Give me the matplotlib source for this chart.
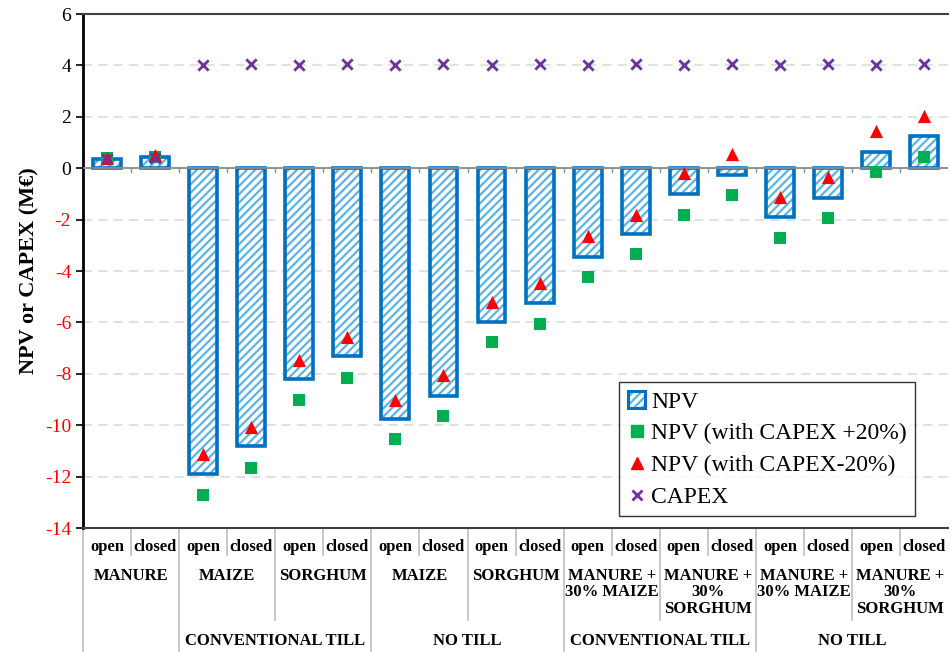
import matplotlib.pyplot as plt
import matplotlib.patches as mpatches
from matplotlib.legend_handler import HandlerTuple
from matplotlib.lines import Line2D
import numpy as np

plt.rcParams["font.family"] = ["Liberation Serif", "DejaVu Serif"]
plt.rcParams["hatch.linewidth"] = 1.6
plt.rcParams["axes.unicode_minus"] = False

# ---- data ---------------------------------------------------------------
systems = ["open", "closed"] * 9
feedstock = ["MANURE", "MAIZE", "SORGHUM", "MAIZE", "SORGHUM",
             "MANURE +\n30% MAIZE", "MANURE +\n30%\nSORGHUM",
             "MANURE +\n30% MAIZE", "MANURE +\n30%\nSORGHUM"]
tillage = ["", "CONVENTIONAL TILL", "NO TILL", "CONVENTIONAL TILL", "NO TILL"]
tillage_span = [1, 2, 2, 2, 2]          # feedstock groups per tillage group

npv = [0.35, 0.45, -11.9, -10.8, -8.2, -7.3, -9.75, -8.85, -6.0, -5.25,
       -3.45, -2.55, -1.0, -0.25, -1.9, -1.15, 0.65, 1.25]
npv_capex_up = [0.4, 0.45, -12.7, -11.65, -9.0, -8.15, -10.55, -9.65, -6.75, -6.05,
                -4.25, -3.35, -1.8, -1.05, -2.7, -1.95, -0.15, 0.45]
npv_capex_down = [0.4, 0.5, -11.1, -10.05, -7.45, -6.55, -9.0, -8.05, -5.2, -4.45,
                  -2.65, -1.8, -0.2, 0.55, -1.1, -0.35, 1.45, 2.05]
capex = [0.35, 0.4, 4.0, 4.05, 4.0, 4.05, 4.0, 4.05, 4.0, 4.05,
         4.0, 4.05, 4.0, 4.05, 4.0, 4.05, 4.0, 4.05]

# ---- figure -------------------------------------------------------------
fig = plt.figure(figsize=(9.5, 6.52), dpi=100)
ax = fig.add_axes([0.0874, 0.19, 0.9106, 0.7885])

x = np.arange(len(npv))
hatched = ax.bar(x, npv, width=0.58, color="white", edgecolor="#5BB4E8",
                 hatch="////", linewidth=0, zorder=2)
outline = ax.bar(x, npv, width=0.58, fill=False, edgecolor="#0070C0",
                 linewidth=2.6, zorder=3)
ax.axhline(0, color="#8C8C8C", lw=1.3, zorder=4)

ax.scatter(x, npv_capex_up, marker="s", s=80, color="#00B050", zorder=5, linewidths=0)
ax.scatter(x, npv_capex_down, marker="^", s=90, color="#FF0000", zorder=6, linewidths=0)
ax.scatter(x, capex, marker="x", s=55, color="#7030A0", linewidths=2.0, zorder=7)

ax.set_xlim(-0.5, len(npv) - 0.5)
ax.set_ylim(-14, 6)
ax.set_yticks(np.arange(-14, 7, 2))
ax.yaxis.grid(True, color="#D9D9D9", ls=(0, (6, 4)), lw=1.1)
ax.set_axisbelow(True)
ax.tick_params(axis="y", labelsize=14, length=5, width=1.2, direction="out")
for lbl, v in zip(ax.get_yticklabels(), ax.get_yticks()):
    lbl.set_color("red" if v < 0 else "black")
ax.set_xticks([])
ax.set_ylabel("NPV or CAPEX (M€)", fontsize=16, fontweight="bold", labelpad=4)

ax.spines["right"].set_visible(False)
ax.spines["left"].set_linewidth(2.0)
ax.spines["top"].set_color("#404040")
ax.spines["top"].set_linewidth(1.5)
ax.spines["bottom"].set_color("#404040")
ax.spines["bottom"].set_linewidth(1.5)

# small ticks on the zero line at category boundaries
for b in np.arange(0.5, len(npv) - 0.5, 1.0):
    ax.plot([b, b], [0, -0.15], color="#8C8C8C", lw=1.0, zorder=4)

# ---- multi-level category table below axes -----------------------------
tr = ax.get_xaxis_transform()
sep_kw = dict(transform=tr, clip_on=False, color="#BFBFBF", lw=1.2)
y_short, y_mid, y_full = -0.053, -0.179, -0.241

for i, s in enumerate(systems):
    ax.text(i, -0.037, s, transform=tr, ha="center", va="center",
            fontsize=12, fontweight="bold")

for g, name in enumerate(feedstock):
    ax.text(2 * g + 0.5, -0.077, name, transform=tr, ha="center", va="top",
            fontsize=12, fontweight="bold", linespacing=1.05)

start = 0
for name, span in zip(tillage, tillage_span):
    n = span * 2
    ax.text(start + n / 2 - 0.5, -0.219, name, transform=tr, ha="center",
            va="center", fontsize=12, fontweight="bold")
    start += n

# separators
group_edges = np.cumsum([0] + [s * 2 for s in tillage_span])
for i in range(len(npv)):
    b = i - 0.5
    if i in group_edges:
        bottom = y_full
    elif i % 2 == 0:
        bottom = y_mid
    else:
        bottom = y_short
    ax.plot([b, b], [0, bottom], **sep_kw)

# ---- legend -------------------------------------------------------------
h_npv = (mpatches.Patch(facecolor="white", edgecolor="#5BB4E8", hatch="////", lw=0),
         mpatches.Patch(fill=False, edgecolor="#0070C0", lw=2.2))
h_up = Line2D([], [], ls="", marker="s", ms=8, color="#00B050")
h_down = Line2D([], [], ls="", marker="^", ms=9, color="#FF0000")
h_cap = Line2D([], [], ls="", marker="x", ms=7, mew=2, color="#7030A0")
leg = ax.legend([h_npv, h_up, h_down, h_cap],
                ["NPV", "NPV (with CAPEX +20%)", "NPV (with CAPEX-20%)", "CAPEX"],
                handler_map={tuple: HandlerTuple(ndivide=1)},
                loc="lower right", bbox_to_anchor=(0.962, 0.023),
                fontsize=17, frameon=True, fancybox=False, edgecolor="black",
                handlelength=0.75, handleheight=0.75, handletextpad=0.25,
                labelspacing=0.42, borderpad=0.35, borderaxespad=0)
leg.get_frame().set_linewidth(1.0)
leg.set_zorder(10)

fig.savefig("out.png", dpi=100)
